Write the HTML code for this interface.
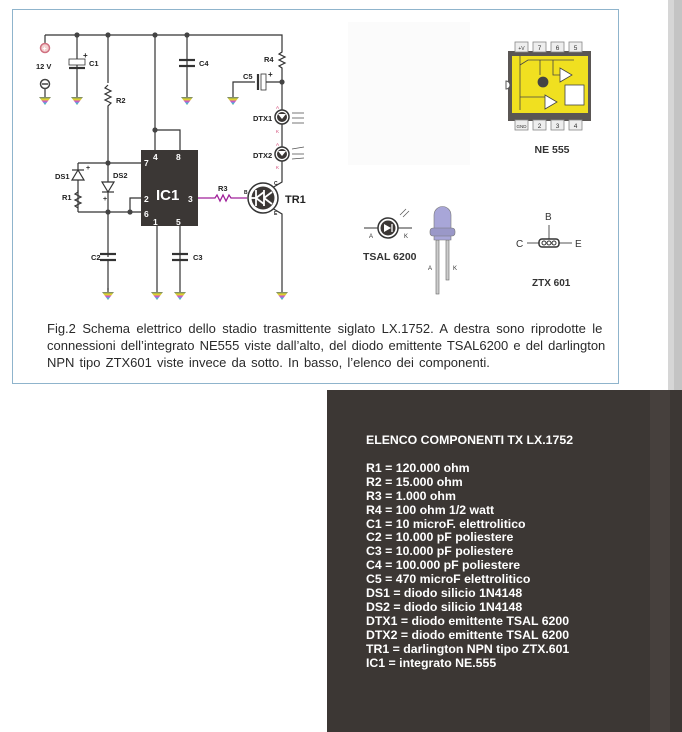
<!DOCTYPE html>
<html><head><meta charset="utf-8"><style>
html,body{margin:0;padding:0;background:#fff;}
body{width:682px;height:732px;overflow:hidden;position:relative;font-family:"Liberation Sans",sans-serif;}
svg{position:absolute;left:0;top:0;}
.cap{position:absolute;left:47px;top:320px;font-size:13px;line-height:17px;color:#2a2a2a;white-space:nowrap;word-spacing:2.8px;}
.cap .l2{word-spacing:1.5px;}
.cap .l3{word-spacing:1.5px;}
.list{position:absolute;left:366px;top:434px;color:#fff;font-weight:bold;font-size:12.3px;line-height:13.9px;}
</style></head><body>
<svg width="682" height="732" viewBox="0 0 682 732" font-family="Liberation Sans, sans-serif">
<defs>
<linearGradient id="gnd" x1="0" y1="0" x2="0" y2="1">
<stop offset="0" stop-color="#6a7a7a"/><stop offset="0.3" stop-color="#e4e020"/><stop offset="0.55" stop-color="#d050c8"/><stop offset="0.8" stop-color="#40b8e0"/><stop offset="1" stop-color="#6a9a40"/>
</linearGradient>
<g id="g"><line x1="0" y1="-4" x2="0" y2="0" stroke="#333" stroke-width="1.2"/><path d="M-6 0 H6 L0 8 Z" fill="url(#gnd)"/></g>
<g id="dot"><circle r="2.6" fill="#444"/></g>
</defs>
<rect x="668" y="0" width="14" height="732" fill="#d6d6d6"/>
<rect x="674" y="0" width="8" height="732" fill="#c4c4c4"/>
<rect x="12.5" y="9.5" width="606" height="374" fill="#fff" stroke="#8fb4cc" stroke-width="1"/>
<rect x="348" y="22" width="122" height="143" fill="#fbfbfb"/>
<rect x="327" y="390" width="355" height="342" fill="#3c3734"/>
<rect x="650" y="390" width="20" height="342" fill="#4a4542" opacity="0.7"/>

<g stroke="#333" stroke-width="1.2" fill="none">
<polyline points="45,35 282,35 282,50"/>
<line x1="45" y1="35" x2="45" y2="44"/>
<line x1="77" y1="35" x2="77" y2="93"/>
<line x1="108" y1="35" x2="108" y2="83"/>
<line x1="108" y1="110" x2="108" y2="257"/>
<line x1="108" y1="259" x2="108" y2="290"/>
<line x1="155" y1="35" x2="155" y2="150"/>
<polyline points="155,130 180,130 180,150"/>
<line x1="187" y1="35" x2="187" y2="93"/>
<polyline points="282,50 282,52 279,54 285,57 279,60 285,63 279,66 282,68 282,110"/>
<polyline points="282,82 264,82"/>
<polyline points="255,82 233,82 233,93"/>
<line x1="282" y1="124" x2="282" y2="147"/>
<polyline points="282,161 282,182 272,188"/>
<polyline points="272,208 282,214 282,288"/>
<polyline points="78,163 142,163"/>
<line x1="78" y1="163" x2="78" y2="212"/>
<polyline points="78,212 142,212"/>
<polyline points="130,212 130,198 142,198"/>
<line x1="157" y1="226" x2="157" y2="288"/>
<line x1="180" y1="226" x2="180" y2="288"/>
<polyline points="78,190 78,192 75,194 81,197 75,200 81,203 75,206 78,208"/>
<polyline points="108,85 105,88 111,91 105,94 111,97 105,100 111,103 108,106 108,110"/>
</g>
<g stroke="#333" stroke-width="2.2">
<line x1="69" y1="68" x2="85" y2="68"/>
<line x1="179" y1="60" x2="195" y2="60"/><line x1="179" y1="66" x2="195" y2="66"/>
<line x1="100" y1="254" x2="116" y2="254"/><line x1="100" y1="260" x2="116" y2="260"/>
<line x1="172" y1="254" x2="188" y2="254"/><line x1="172" y1="260" x2="188" y2="260"/>
<line x1="258" y1="74" x2="258" y2="90"/>
</g>
<rect x="69" y="59" width="16" height="6" fill="#fff" stroke="#333" stroke-width="0.8"/>
<rect x="261" y="74" width="5" height="16" fill="#fff" stroke="#333" stroke-width="0.8"/>
<g font-size="8" fill="#222" font-weight="bold">
<text x="83" y="58">+</text><text x="268" y="77">+</text>
</g>
<g fill="#fff" stroke="#333" stroke-width="1.2">
<path d="M72 180 L84 180 L78 170 Z"/><line x1="72" y1="170" x2="84" y2="170"/>
<path d="M102 182 L114 182 L108 192 Z"/><line x1="102" y1="192" x2="114" y2="192"/>
</g>
<g fill="#333" font-size="7" font-weight="bold"><text x="86" y="170">+</text><text x="103" y="201">+</text></g>
<use href="#dot" x="77" y="35"/><use href="#dot" x="108" y="35"/><use href="#dot" x="155" y="35"/><use href="#dot" x="187" y="35"/>
<use href="#dot" x="155" y="130"/><use href="#dot" x="108" y="163"/><use href="#dot" x="108" y="212"/><use href="#dot" x="130" y="212"/><use href="#dot" x="282" y="82"/>
<use href="#g" x="45" y="97"/><use href="#g" x="77" y="97"/><use href="#g" x="187" y="97"/><use href="#g" x="233" y="97"/>
<use href="#g" x="108" y="292"/><use href="#g" x="157" y="292"/><use href="#g" x="180" y="292"/><use href="#g" x="282" y="292"/>
<circle cx="45" cy="48" r="4.5" fill="#f3d0d0" stroke="#d07080" stroke-width="1.5"/>
<text x="42.5" y="51" font-size="7" fill="#fff" font-weight="bold">+</text>
<circle cx="45" cy="84" r="4.5" fill="#fff" stroke="#444" stroke-width="1.5"/>
<line x1="42" y1="84" x2="48" y2="84" stroke="#444" stroke-width="1.5"/>
<line x1="45" y1="89" x2="45" y2="93" stroke="#333" stroke-width="1.2"/>
<rect x="141" y="150" width="57" height="76" fill="#3b3735"/>
<g fill="#fff" font-weight="bold" font-size="8.5">
<text x="144" y="166">7</text><text x="153" y="160">4</text><text x="176" y="160">8</text>
<text x="144" y="202">2</text><text x="144" y="217">6</text><text x="188" y="202">3</text>
<text x="153" y="225">1</text><text x="176" y="225">5</text>
<text x="156" y="200" font-size="15">IC1</text>
</g>
<polyline points="198,198 215,198 217,195 220,201 223,195 226,201 229,195 231,198 247,198" fill="none" stroke="#a0209a" stroke-width="1.3"/>
<circle cx="263" cy="198" r="15" fill="#fff" stroke="#333" stroke-width="1.5"/>
<circle cx="263" cy="198" r="11.5" fill="#3b3735"/>
<g stroke="#fff" stroke-width="1.8"><line x1="256" y1="190" x2="256" y2="206"/><line x1="264" y1="190" x2="264" y2="206"/><line x1="251" y1="198" x2="256" y2="198"/><line x1="256" y1="198" x2="264" y2="192"/><line x1="256" y1="198" x2="264" y2="204"/><line x1="264" y1="198" x2="272" y2="192"/><line x1="264" y1="198" x2="272" y2="204"/></g>
<g>
<circle cx="282" cy="117" r="7" fill="#fff" stroke="#333" stroke-width="1.5"/><circle cx="282" cy="117" r="5" fill="#3b3735"/>
<circle cx="282" cy="154" r="7" fill="#fff" stroke="#333" stroke-width="1.5"/><circle cx="282" cy="154" r="5" fill="#3b3735"/>
<path d="M278 114 H286 L282 119 Z M278 151 H286 L282 156 Z" fill="#fff"/>
<g stroke="#555" stroke-width="0.8"><line x1="292" y1="113" x2="304" y2="113"/><line x1="292" y1="118" x2="304" y2="118"/><line x1="292" y1="123" x2="304" y2="123"/>
<line x1="292" y1="149" x2="304" y2="147"/><line x1="292" y1="154" x2="304" y2="154"/><line x1="292" y1="159" x2="304" y2="158"/></g>
</g>
<g font-size="4.5" fill="#d04070"><text x="276" y="109">A</text><text x="276" y="133">K</text><text x="276" y="146">A</text><text x="276" y="169">K</text></g>
<g font-size="7.5" fill="#222" font-weight="bold" font-family="Liberation Sans Narrow, Liberation Sans, sans-serif">
<text x="36" y="69">12 V</text><text x="89" y="66">C1</text><text x="116" y="103">R2</text><text x="199" y="66">C4</text>
<text x="264" y="62">R4</text><text x="243" y="79">C5</text><text x="253" y="121">DTX1</text><text x="253" y="158">DTX2</text>
<text x="55" y="179">DS1</text><text x="113" y="178">DS2</text><text x="62" y="200">R1</text><text x="218" y="191">R3</text>
<text x="91" y="260">C2</text><text x="193" y="260">C3</text>
<text x="285" y="203" font-size="11">TR1</text>
<text x="274" y="185" font-size="5">C</text><text x="274" y="215" font-size="5">E</text><text x="244" y="194" font-size="5">B</text>
</g>
<g>
<rect x="508" y="51" width="83" height="70" fill="#5a5654"/>
<rect x="512" y="56" width="76" height="57" fill="#f0e020"/>
<path d="M506 81 a4 4 0 0 1 0 8 Z" fill="#fff" stroke="#555"/>
<g fill="#eee" stroke="#888" stroke-width="0.8">
<rect x="515" y="42" width="13" height="10"/><rect x="533" y="42" width="13" height="10"/><rect x="551" y="42" width="13" height="10"/><rect x="569" y="42" width="13" height="10"/>
<rect x="515" y="120" width="13" height="10"/><rect x="533" y="120" width="13" height="10"/><rect x="551" y="120" width="13" height="10"/><rect x="569" y="120" width="13" height="10"/>
</g>
<g font-size="6.5" fill="#333" text-anchor="middle"><text x="521.5" y="50" font-size="5">+V</text><text x="539.5" y="50">7</text><text x="557.5" y="50">6</text><text x="575.5" y="50">5</text>
<text x="521.5" y="128" font-size="4.5">GND</text><text x="539.5" y="128">2</text><text x="557.5" y="128">3</text><text x="575.5" y="128">4</text></g>
<g stroke="#444" stroke-width="0.8" fill="none">
<line x1="520" y1="56" x2="520" y2="110"/><polyline points="520,65 528,60 574,60"/><polyline points="540,60 540,75"/><polyline points="553,60 553,75 560,75"/>
<path d="M560 68 L572 75 L560 82 Z" fill="#fff"/><path d="M545 95 L557 102 L545 109 Z" fill="#fff"/>
<polyline points="520,97 545,97"/><rect x="565" y="85" width="19" height="20" fill="#fff"/>
<circle cx="543" cy="82" r="5" fill="#444"/>
</g>
<text x="552" y="153" font-size="10.5" font-weight="bold" text-anchor="middle" fill="#333" font-family="Liberation Sans Narrow, Liberation Sans, sans-serif">NE 555</text>
</g>
<g>
<line x1="364" y1="228" x2="412" y2="228" stroke="#333" stroke-width="1"/>
<circle cx="388" cy="228" r="10" fill="#fff" stroke="#333" stroke-width="1.5"/><circle cx="388" cy="228" r="7.5" fill="#3b3735"/>
<path d="M384 224 V232 L391 228 Z" fill="#fff"/><line x1="392" y1="224" x2="392" y2="232" stroke="#fff" stroke-width="1.3"/>
<line x1="400" y1="215" x2="406" y2="209" stroke="#555" stroke-width="0.7"/><line x1="403" y1="217" x2="409" y2="211" stroke="#555" stroke-width="0.7"/>
<text x="369" y="238" font-size="6" fill="#333">A</text><text x="404" y="238" font-size="6" fill="#333">K</text>
<text x="363" y="260" font-size="10.5" font-weight="bold" fill="#333" font-family="Liberation Sans Narrow, Liberation Sans, sans-serif">TSAL 6200</text>
<rect x="436" y="240" width="3" height="54" fill="#ccc" stroke="#666" stroke-width="0.6"/>
<rect x="446" y="240" width="3" height="40" fill="#ccc" stroke="#666" stroke-width="0.6"/>
<path d="M434 240 V215 a8.5 8.5 0 0 1 17 0 V240 Z" fill="#a8a6d8" stroke="#777" stroke-width="0.6"/>
<rect x="430" y="228" width="25" height="8" rx="3" fill="#9a98c8" stroke="#777" stroke-width="0.6"/>
<text x="428" y="270" font-size="6" fill="#333">A</text><text x="453" y="270" font-size="6" fill="#333">K</text>
</g>
<g font-family="Liberation Sans Narrow, Liberation Sans, sans-serif" fill="#333">
<text x="545" y="220" font-size="10">B</text><text x="516" y="247" font-size="10">C</text><text x="575" y="247" font-size="10">E</text>
<line x1="549" y1="225" x2="549" y2="240" stroke="#555"/><line x1="527" y1="243" x2="540" y2="243" stroke="#555"/><line x1="558" y1="243" x2="572" y2="243" stroke="#555"/>
<rect x="539" y="239" width="20" height="8" rx="3" fill="#fff" stroke="#333" stroke-width="1.5"/>
<circle cx="544" cy="243" r="2" fill="none" stroke="#333"/><circle cx="549" cy="243" r="2" fill="none" stroke="#333"/><circle cx="554" cy="243" r="2" fill="none" stroke="#333"/>
<text x="532" y="286" font-size="10" font-weight="bold">ZTX 601</text>
</g>
</svg>
<div class="cap"><span>Fig.2 Schema elettrico dello stadio trasmittente siglato LX.1752. A destra sono riprodotte le</span><br><span class="l2">connessioni dell’integrato NE555 viste dall’alto, del diodo emittente TSAL6200 e del darlington</span><br><span class="l3">NPN tipo ZTX601 viste invece da sotto. In basso, l’elenco dei componenti.</span></div>
<div class="list">ELENCO COMPONENTI TX LX.1752<div style="height:14px"></div>R1 = 120.000 ohm<br>R2 = 15.000 ohm<br>R3 = 1.000 ohm<br>R4 = 100 ohm 1/2 watt<br>C1 = 10 microF. elettrolitico<br>C2 = 10.000 pF poliestere<br>C3 = 10.000 pF poliestere<br>C4 = 100.000 pF poliestere<br>C5 = 470 microF elettrolitico<br>DS1 = diodo silicio 1N4148<br>DS2 = diodo silicio 1N4148<br>DTX1 = diodo emittente TSAL 6200<br>DTX2 = diodo emittente TSAL 6200<br>TR1 = darlington NPN tipo ZTX.601<br>IC1 = integrato NE.555</div>
</body></html>
